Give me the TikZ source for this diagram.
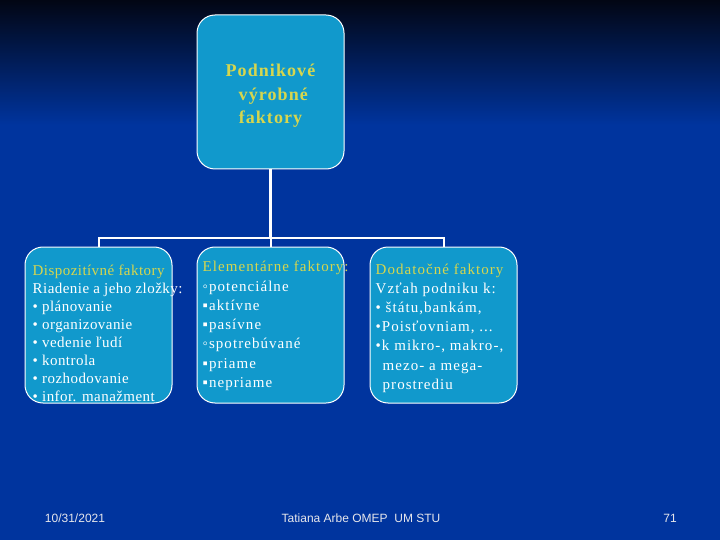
\documentclass[tikz,border=0pt]{standalone}
\usepackage{fontspec}
\setmainfont{Liberation Serif}
\newfontfamily\topfnt[LetterSpace=6]{Liberation Serif}
\newfontfamily\lspfnt[LetterSpace=3]{Liberation Serif}
\newfontfamily\wspfnt[LetterSpace=7]{Liberation Serif}
\newfontfamily\footfnt{Liberation Sans}
\definecolor{bgblue}{RGB}{0,52,158}
\definecolor{bgtop}{RGB}{2,6,20}
\definecolor{bgmid}{RGB}{0,36,102}
\definecolor{boxblue}{RGB}{17,153,204}
\definecolor{ylw}{RGB}{214,214,78}
\definecolor{foottxt}{RGB}{230,230,235}
\begin{document}
\begin{tikzpicture}[x=1pt,y=-1pt,
  box/.style={draw=white, line width=1pt, fill=boxblue, rounded corners=18pt,
    minimum width=147pt, minimum height=156pt, inner sep=0pt},
  conn/.style={draw=white, line width=2.5pt},
  txt/.style={text=white, align=left, inner sep=0pt, anchor=west},
  foot/.style={text=foottxt, font=\footfnt\fontsize{12}{14}\selectfont, inner sep=0pt}]
\useasboundingbox (0,0) rectangle (720,540);
\fill[bgblue] (0,0) rectangle (720,540);
\shade[top color=bgtop, middle color=bgmid, bottom color=bgblue] (0,0) rectangle (720,125);

% boxes
\node[box, minimum height=154pt] (T) at (270.5,92) {};
\node[box] (L) at (98.5,325) {};
\node[box] (M) at (270.5,325) {};
\node[box] (R) at (443.5,325) {};

% connectors
\coordinate (bus) at (0,238);
\draw[conn] (T.south) -- (T.south |- bus);
\draw[conn, line width=2pt] (L.north) -- (L.north |- bus) -- (R.north |- bus) -- (R.north);
\draw[conn, line width=2pt] (M.north) -- (M.north |- bus);

% texts
\node[text=ylw, align=center, inner sep=0pt,
  font=\topfnt\bfseries\fontsize{18}{23.5}\selectfont] (Tt) at ([yshift=-4pt]T.center)
  {Podnikové\\ \ výrobné\\ faktory};
\node[txt, font=\lspfnt\fontsize{15}{18}\selectfont] (Lt) at ([xshift=8pt,yshift=-8pt]L.west)
 {{\color{ylw}Dispozitívné faktory}\\
  Riadenie a jeho zložky:\\
  • plánovanie\\
  • organizovanie\\
  • vedenie ľudí\\
  • kontrola\\
  • rozhodovanie\\
  • infor. manažment};
\node[txt, font=\wspfnt\fontsize{15}{19.3}\selectfont] (Mt) at ([xshift=6pt,yshift=-1pt]M.west)
 {{\color{ylw}Elementárne faktory:}\\
  ◦potenciálne\\
  ▪aktívne\\
  ▪pasívne\\
  ◦spotrebúvané\\
  ▪priame\\
  ▪nepriame};
\node[txt, font=\wspfnt\fontsize{15}{19.2}\selectfont] (Rt) at ([xshift=6pt,yshift=-3pt]R.west)
 {{\color{ylw}Dodatočné faktory}\\
  Vzťah podniku k:\\
  • štátu,bankám,\\
  •Poisťovniam, ...\\
  •k mikro-, makro-,\\
  \hspace*{7pt}mezo- a mega-\\
  \hspace*{7pt}prostrediu};

% footer
\node[foot] (date) at (75,518) {10/31/2021};
\node[foot] (auth) at (361,518) {Tatiana Arbe OMEP\ \ UM STU};
\node[foot] (page) at (670,518) {71};
\end{tikzpicture}
\end{document}
